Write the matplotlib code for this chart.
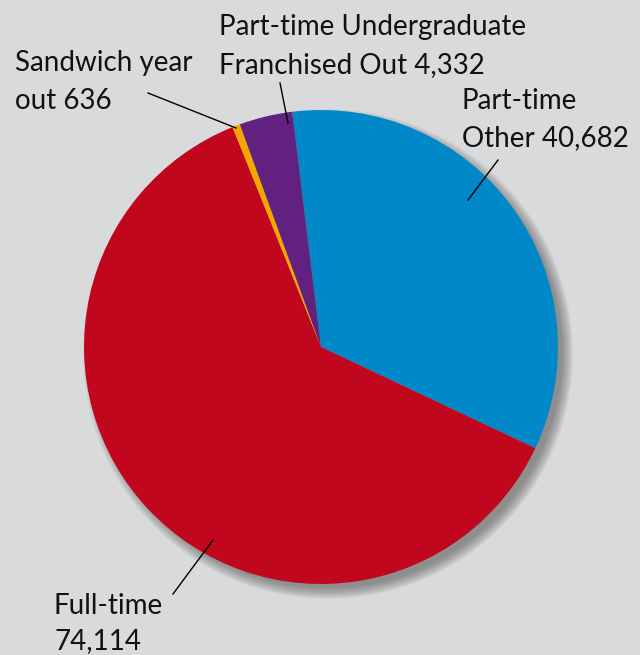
import matplotlib.pyplot as plt
from matplotlib.patches import Circle

labels = ['Part-time\nOther 40,682', 'Full-time\n74,114', 'Sandwich year\nout 636',
          'Part-time Undergraduate\nFranchised Out 4,332']
values = [40682, 74114, 636, 4332]
colors = ['#0088c9', '#c1071e', '#f7a600', '#63217f']

# label text positions (left x, centre y of each line) and leader lines
label_pos = [(462, (101, 138)), (54, (606, 641)), (15, (63, 101)), (219, (27, 65))]
leaders = [((498, 160), (468, 200)), ((173, 594), (213, 540)),
           ((148, 93), (236, 128)), ((280, 83), (288, 123))]

bg = '#d9dadb'
plt.rcParams['font.family'] = ['Lato', 'DejaVu Sans']

fig = plt.figure(figsize=(6.4, 6.55), dpi=100, facecolor=bg)
ax = fig.add_axes([0, 0, 1, 1])
ax.set_facecolor(bg)

cx, cy, r = 321, 347, 237

# soft drop shadow, mostly bottom-right
for i in range(12):
    ax.add_patch(Circle((cx + 7, cy + 7), r + 8 - i, color='#404040',
                        alpha=0.05, lw=0, zorder=1))

# y axis is inverted, so "counterclock" in data space looks clockwise
ax.pie(values, colors=colors, startangle=-97, counterclock=True,
       center=(cx, cy), radius=r, frame=True,
       wedgeprops={'linewidth': 0, 'zorder': 2})
ax.set_xlim(0, 640)
ax.set_ylim(655, 0)
ax.axis('off')

for lab, (x, ys) in zip(labels, label_pos):
    for line, y in zip(lab.split('\n'), ys):
        ax.text(x, y, line, fontsize=20, ha='left', va='center',
                color='#111111', zorder=5)

for (p0, p1) in leaders:
    ax.plot([p0[0], p1[0]], [p0[1], p1[1]], color='black', lw=1, zorder=6)

fig.savefig('out.png', dpi=100, facecolor=bg)
